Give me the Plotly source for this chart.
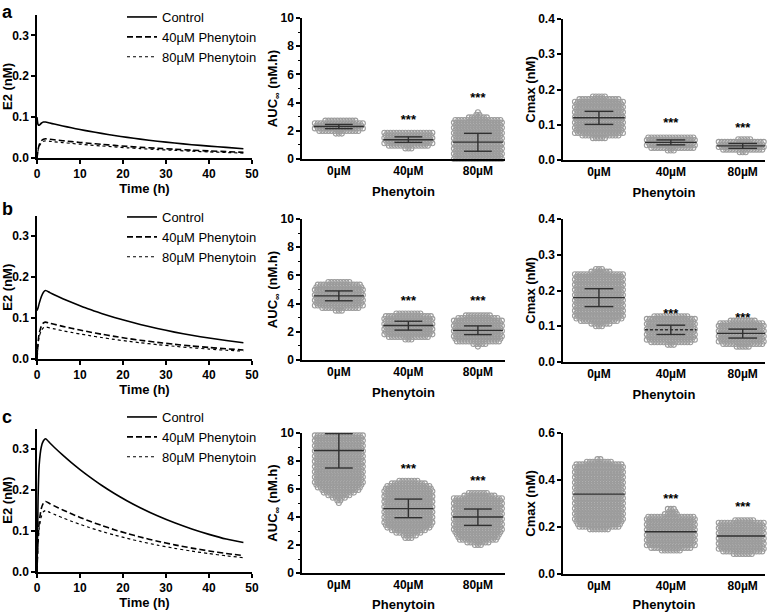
import numpy as np
import plotly.graph_objects as go
from plotly.subplots import make_subplots

W, H = 778, 612
FONT = "Liberation Sans, Arial, sans-serif"

# ---------------- time-course data ----------------
time_h = [0, 0.25, 0.5, 1, 1.5, 2, 3, 4, 6, 8, 10, 12, 15, 18, 21, 24, 28, 32, 36, 40, 44, 48]

a_control = [0.100, 0.082, 0.080, 0.085, 0.088, 0.088, 0.0855, 0.083, 0.0784, 0.0739, 0.0697, 0.0657, 0.0602,
             0.0551, 0.0505, 0.0462, 0.0412, 0.0367, 0.0326, 0.0291, 0.0259, 0.0228]
a_p40 = [0.0, 0.020, 0.032, 0.042, 0.046, 0.047, 0.0458, 0.0446, 0.0423, 0.0402, 0.0381, 0.0362, 0.0335,
         0.0308, 0.0285, 0.0262, 0.0237, 0.0214, 0.0192, 0.0173, 0.0156, 0.0140]
a_p80 = [0.0, 0.018, 0.028, 0.037, 0.041, 0.042, 0.0409, 0.0398, 0.0377, 0.0357, 0.0338, 0.0320, 0.0295,
         0.0271, 0.0250, 0.0230, 0.0207, 0.0186, 0.0167, 0.0150, 0.0135, 0.0120]

b_control = [0.118, 0.125, 0.135, 0.152, 0.163, 0.167, 0.1619, 0.1568, 0.1472, 0.1382, 0.1298, 0.1218, 0.1112,
             0.1014, 0.0925, 0.0843, 0.0744, 0.0656, 0.0579, 0.0511, 0.0451, 0.0398]
b_p40 = [0.0, 0.040, 0.062, 0.080, 0.088, 0.090, 0.0873, 0.0847, 0.0796, 0.0750, 0.0705, 0.0664, 0.0605,
         0.0551, 0.0502, 0.0458, 0.0406, 0.0358, 0.0317, 0.0281, 0.0248, 0.0220]
b_p80 = [0.0, 0.035, 0.054, 0.069, 0.076, 0.078, 0.0756, 0.0734, 0.0690, 0.0649, 0.0611, 0.0575, 0.0524,
         0.0477, 0.0435, 0.0397, 0.0351, 0.0310, 0.0274, 0.0242, 0.0214, 0.0190]

c_control = [0.0, 0.180, 0.260, 0.305, 0.320, 0.325, 0.3145, 0.3043, 0.2850, 0.2668, 0.2498, 0.2339, 0.2116,
             0.1915, 0.1733, 0.1568, 0.1371, 0.1199, 0.1049, 0.0918, 0.0803, 0.0720]
c_p40 = [0.0, 0.080, 0.120, 0.155, 0.168, 0.172, 0.1666, 0.1613, 0.1514, 0.1420, 0.1332, 0.1250, 0.1136,
         0.1032, 0.0938, 0.0853, 0.0751, 0.0662, 0.0583, 0.0514, 0.0453, 0.0400]
c_p80 = [0.0, 0.070, 0.105, 0.135, 0.147, 0.150, 0.1453, 0.1407, 0.1320, 0.1239, 0.1162, 0.1091, 0.0991,
         0.0901, 0.0819, 0.0745, 0.0656, 0.0578, 0.0509, 0.0449, 0.0395, 0.0350]

series_names = ["Control", "40µM Phenytoin", "80µM Phenytoin"]
dose_labels = ["0µM", "40µM", "80µM"]

# ---------------- swarm summary data ----------------
aM_mean = [2.3, 1.37, 1.2];   aM_lo = [2.15, 1.18, 0.55];   aM_hi = [2.45, 1.57, 1.82]
aR_mean = [0.12, 0.05, 0.04]; aR_lo = [0.101, 0.043, 0.033]; aR_hi = [0.138, 0.057, 0.047]
bM_mean = [4.55, 2.45, 2.1];  bM_lo = [4.2, 2.12, 1.8];     bM_hi = [4.9, 2.75, 2.42]
bR_mean = [0.18, 0.09, 0.08]; bR_lo = [0.155, 0.077, 0.067]; bR_hi = [0.205, 0.103, 0.092]
cM_mean = [8.75, 4.6, 4.0];   cM_lo = [7.5, 3.95, 3.4];     cM_hi = [9.95, 5.28, 4.57]
cR_mean = [0.34, 0.18, 0.162]; cR_lo = [None, None, None];   cR_hi = [None, None, None]

aM_star = [None, 2.7, 4.3]
aR_star = [None, 0.104, 0.09]
bM_star = [None, 4.15, 4.15]
bR_star = [None, 0.131, 0.122]
cM_star = [None, 7.35, 6.5]
cR_star = [None, 0.316, 0.28]

# swarm envelopes: value levels and half-width (fraction of category slot)
aM_env = [
    ([1.8, 1.95, 2.05, 2.65, 2.75, 2.85], [0.05, 0.3, 0.35, 0.35, 0.2, 0.05]),
    ([0.75, 0.9, 1.0, 1.9, 2.0], [0.05, 0.3, 0.35, 0.35, 0.15]),
    ([0.0, 2.8, 2.9, 3.1, 3.4], [0.35, 0.35, 0.2, 0.05, 0.03]),
]
aR_env = [
    ([0.062, 0.07, 0.078, 0.17, 0.175, 0.182], [0.1, 0.3, 0.35, 0.35, 0.25, 0.03]),
    ([0.027, 0.033, 0.038, 0.066, 0.07], [0.05, 0.3, 0.35, 0.35, 0.1]),
    ([0.022, 0.028, 0.032, 0.055, 0.059], [0.05, 0.3, 0.35, 0.35, 0.1]),
]
bM_env = [
    ([3.5, 3.7, 3.85, 5.3, 5.45, 5.65], [0.05, 0.3, 0.35, 0.35, 0.25, 0.1]),
    ([1.45, 1.6, 1.75, 3.2, 3.3, 3.4], [0.05, 0.3, 0.35, 0.35, 0.2, 0.05]),
    ([0.95, 1.1, 1.3, 1.5, 2.85, 3.05, 3.3], [0.03, 0.08, 0.3, 0.35, 0.35, 0.3, 0.03]),
]
bR_env = [
    ([0.1, 0.11, 0.12, 0.245, 0.255, 0.265], [0.05, 0.2, 0.35, 0.35, 0.1, 0.02]),
    ([0.048, 0.055, 0.06, 0.125, 0.132], [0.05, 0.3, 0.35, 0.35, 0.15]),
    ([0.043, 0.05, 0.056, 0.11, 0.116], [0.1, 0.3, 0.35, 0.35, 0.2]),
]
cM_env = [
    ([5.0, 5.3, 5.6, 6.0, 6.3, 10.0], [0.02, 0.08, 0.2, 0.3, 0.35, 0.35]),
    ([2.5, 2.8, 3.1, 3.3, 6.2, 6.4, 6.65], [0.05, 0.15, 0.3, 0.35, 0.35, 0.28, 0.1]),
    ([2.0, 2.3, 2.6, 2.8, 5.4, 5.6, 5.8], [0.05, 0.25, 0.32, 0.35, 0.35, 0.2, 0.1]),
]
cR_env = [
    ([0.19, 0.2, 0.22, 0.47, 0.48, 0.49], [0.15, 0.3, 0.35, 0.35, 0.15, 0.03]),
    ([0.10, 0.11, 0.12, 0.245, 0.25, 0.28], [0.15, 0.3, 0.35, 0.35, 0.1, 0.04]),
    ([0.085, 0.095, 0.105, 0.225, 0.23], [0.15, 0.3, 0.35, 0.35, 0.1]),
]

# ---------------- layout geometry (pixels) ----------------
def xd(x0, x1):
    return [x0 / W, x1 / W]

def yd(top, bot):
    return [1 - bot / H, 1 - top / H]

left_x = (37, 252)
mid_x = (302, 505)
right_x = (563, 765)
rows_px = {
    "left": [(15, 158), (215.5, 359), (428.5, 572)],
    "mid": [(18, 159), (219, 360), (433, 573)],
    "right": [(19, 160), (219, 362), (433, 574)],
}
mid_xrange = [-0.53, 2.39]
right_xrange = [-0.5, 2.31]

fig = make_subplots(rows=3, cols=3)

line_styles = [dict(color="black", width=1.6, dash="solid"),
               dict(color="black", width=1.6, dash="6px,3px"),
               dict(color="black", width=1.2, dash="dot")]

curves = [(a_control, a_p40, a_p80), (b_control, b_p40, b_p80), (c_control, c_p40, c_p80)]
legend_ids = ["legend", "legend2", "legend3"]

for r in range(3):
    for s in range(3):
        fig.add_trace(go.Scatter(x=time_h, y=curves[r][s], mode="lines", name=series_names[s],
                                 line=dict(shape="spline", smoothing=0.6, **line_styles[s]),
                                 legend=legend_ids[r], showlegend=True, cliponaxis=False),
                      row=r + 1, col=1)

GREY = "#9c9c9c"
DARK = "#303030"


def add_swarm(row, col, env, means, lo, hi, stars, yspan, dom_px, xrng, dom_x, dash_means=None):
    px_per_unit_y = (dom_px[1] - dom_px[0]) / yspan
    px_per_unit_x = (dom_x[1] - dom_x[0]) / (xrng[1] - xrng[0])
    dy = 2.6 / px_per_unit_y
    dx = 3.0 / px_per_unit_x
    xs, ys = [], []
    for i, (lv, hw) in enumerate(env):
        y = lv[0]
        k = 0
        while y <= lv[-1] + 1e-12:
            w = float(np.interp(y, lv, hw))
            off = (dx / 2) if (k % 2) else 0.0
            n = int(w / dx)
            for j in range(-n, n + 1):
                xo = j * dx + off
                if abs(xo) <= w + 1e-9:
                    xs.append(i + xo)
                    ys.append(y)
            y += dy
            k += 1
    fig.add_trace(go.Scatter(x=xs, y=ys, mode="markers", showlegend=False, cliponaxis=False,
                             marker=dict(symbol="circle-open", size=5, color=GREY, line=dict(width=1.1))),
                  row=row, col=col)
    for i in range(3):
        dash = "solid"
        if dash_means and dash_means[i]:
            dash = "3px,2px"
        fig.add_trace(go.Scatter(x=[i - 0.36, i + 0.36], y=[means[i], means[i]], mode="lines",
                                 showlegend=False, line=dict(color=DARK, width=1.4, dash=dash),
                                 cliponaxis=False), row=row, col=col)
        if lo[i] is not None:
            fig.add_trace(go.Scatter(x=[i - 0.2, i + 0.2, None, i, i, None, i - 0.2, i + 0.2],
                                     y=[lo[i], lo[i], None, lo[i], hi[i], None, hi[i], hi[i]],
                                     mode="lines", showlegend=False,
                                     line=dict(color=DARK, width=1.4), cliponaxis=False),
                          row=row, col=col)
        if stars[i] is not None:
            fig.add_trace(go.Scatter(x=[i], y=[stars[i]], mode="text", text=["***"],
                                     textfont=dict(family=FONT, size=13, color="black", weight="bold"),
                                     showlegend=False, cliponaxis=False), row=row, col=col)


add_swarm(1, 2, aM_env, aM_mean, aM_lo, aM_hi, aM_star, 10, rows_px["mid"][0], mid_xrange, mid_x)
add_swarm(1, 3, aR_env, aR_mean, aR_lo, aR_hi, aR_star, 0.4, rows_px["right"][0], right_xrange, right_x)
add_swarm(2, 2, bM_env, bM_mean, bM_lo, bM_hi, bM_star, 10, rows_px["mid"][1], mid_xrange, mid_x)
add_swarm(2, 3, bR_env, bR_mean, bR_lo, bR_hi, bR_star, 0.4, rows_px["right"][1], right_xrange, right_x,
          dash_means=[False, True, False])
add_swarm(3, 2, cM_env, cM_mean, cM_lo, cM_hi, cM_star, 10, rows_px["mid"][2], mid_xrange, mid_x)
add_swarm(3, 3, cR_env, cR_mean, cR_lo, cR_hi, cR_star, 0.6, rows_px["right"][2], right_xrange, right_x)

tickfont = dict(family=FONT, size=12, color="black", weight="bold")
titlefont = dict(family=FONT, size=13, color="black", weight="bold")
axis_common = dict(showline=True, linecolor="black", linewidth=1.5, showgrid=False, zeroline=False,
                   tickfont=tickfont, title_font=titlefont, ticks="outside", ticklen=4, tickwidth=1.5,
                   tickcolor="black", automargin=False)

for r in range(3):
    base = r * 3
    xi, yi = base + 1, base + 1
    fig.layout["xaxis" if xi == 1 else f"xaxis{xi}"].update(
        domain=xd(*left_x), range=[0, 50], tickvals=[0, 10, 20, 30, 40, 50],
        title_text="Time (h)", title_standoff=2, **axis_common)
    fig.layout["yaxis" if yi == 1 else f"yaxis{yi}"].update(
        domain=yd(*rows_px["left"][r]), range=[0, 0.35], tickvals=[0, 0.1, 0.2, 0.3],
        ticktext=["0.0", "0.1", "0.2", "0.3"], title_text="E2 (nM)", title_standoff=4, **axis_common)
    fig.layout[f"xaxis{base + 2}"].update(
        domain=xd(*mid_x), range=mid_xrange, tickvals=[0, 1, 2], ticktext=dose_labels,
        title_text="Phenytoin", title_standoff=10, **{**axis_common, "ticks": ""})
    fig.layout[f"yaxis{base + 2}"].update(
        domain=yd(*rows_px["mid"][r]), range=[0, 10], tickvals=[0, 2, 4, 6, 8, 10],
        title_text="AUC<sub>∞</sub> (nM.h)", title_standoff=0,
        minor=dict(dtick=1, ticks="outside", ticklen=2, tickcolor="black", tickwidth=1), **axis_common)
    rmax = 0.6 if r == 2 else 0.4
    rt = [0, 0.2, 0.4, 0.6] if r == 2 else [0, 0.1, 0.2, 0.3, 0.4]
    fig.layout[f"xaxis{base + 3}"].update(
        domain=xd(*right_x), range=right_xrange, tickvals=[0, 1, 2], ticktext=dose_labels,
        title_text="Phenytoin", title_standoff=10, **{**axis_common, "ticks": ""})
    fig.layout[f"yaxis{base + 3}"].update(
        domain=yd(*rows_px["right"][r]), range=[0, rmax], tickvals=rt,
        ticktext=[f"{v:.1f}" for v in rt], title_text="Cmax (nM)", title_standoff=0, **axis_common)

legend_top = [2, 202, 402]
legend_cfg = dict(x=122 / W, xanchor="left", yanchor="top", bgcolor="rgba(0,0,0,0)",
                  font=dict(family=FONT, size=13, color="black"), tracegroupgap=0, itemwidth=30)
fig.update_layout(
    legend=dict(y=1 - legend_top[0] / H, **legend_cfg),
    legend2=dict(y=1 - legend_top[1] / H, **legend_cfg),
    legend3=dict(y=1 - legend_top[2] / H, **legend_cfg),
)

for letter, yp in zip(["a", "b", "c"], [12, 209, 417]):
    fig.add_annotation(text=letter, x=7 / W, y=1 - yp / H, xref="paper", yref="paper", showarrow=False,
                       xanchor="center", yanchor="middle",
                       font=dict(family=FONT, size=18, color="black", weight="bold"))

fig.update_layout(width=W, height=H, margin=dict(l=0, r=0, t=0, b=0, autoexpand=False),
                  plot_bgcolor="white", paper_bgcolor="white", font=dict(family=FONT, color="black"))

fig.write_html("out.html", config={"displayModeBar": False},
               post_script="document.body.style.margin='0';document.body.style.padding='0';")
